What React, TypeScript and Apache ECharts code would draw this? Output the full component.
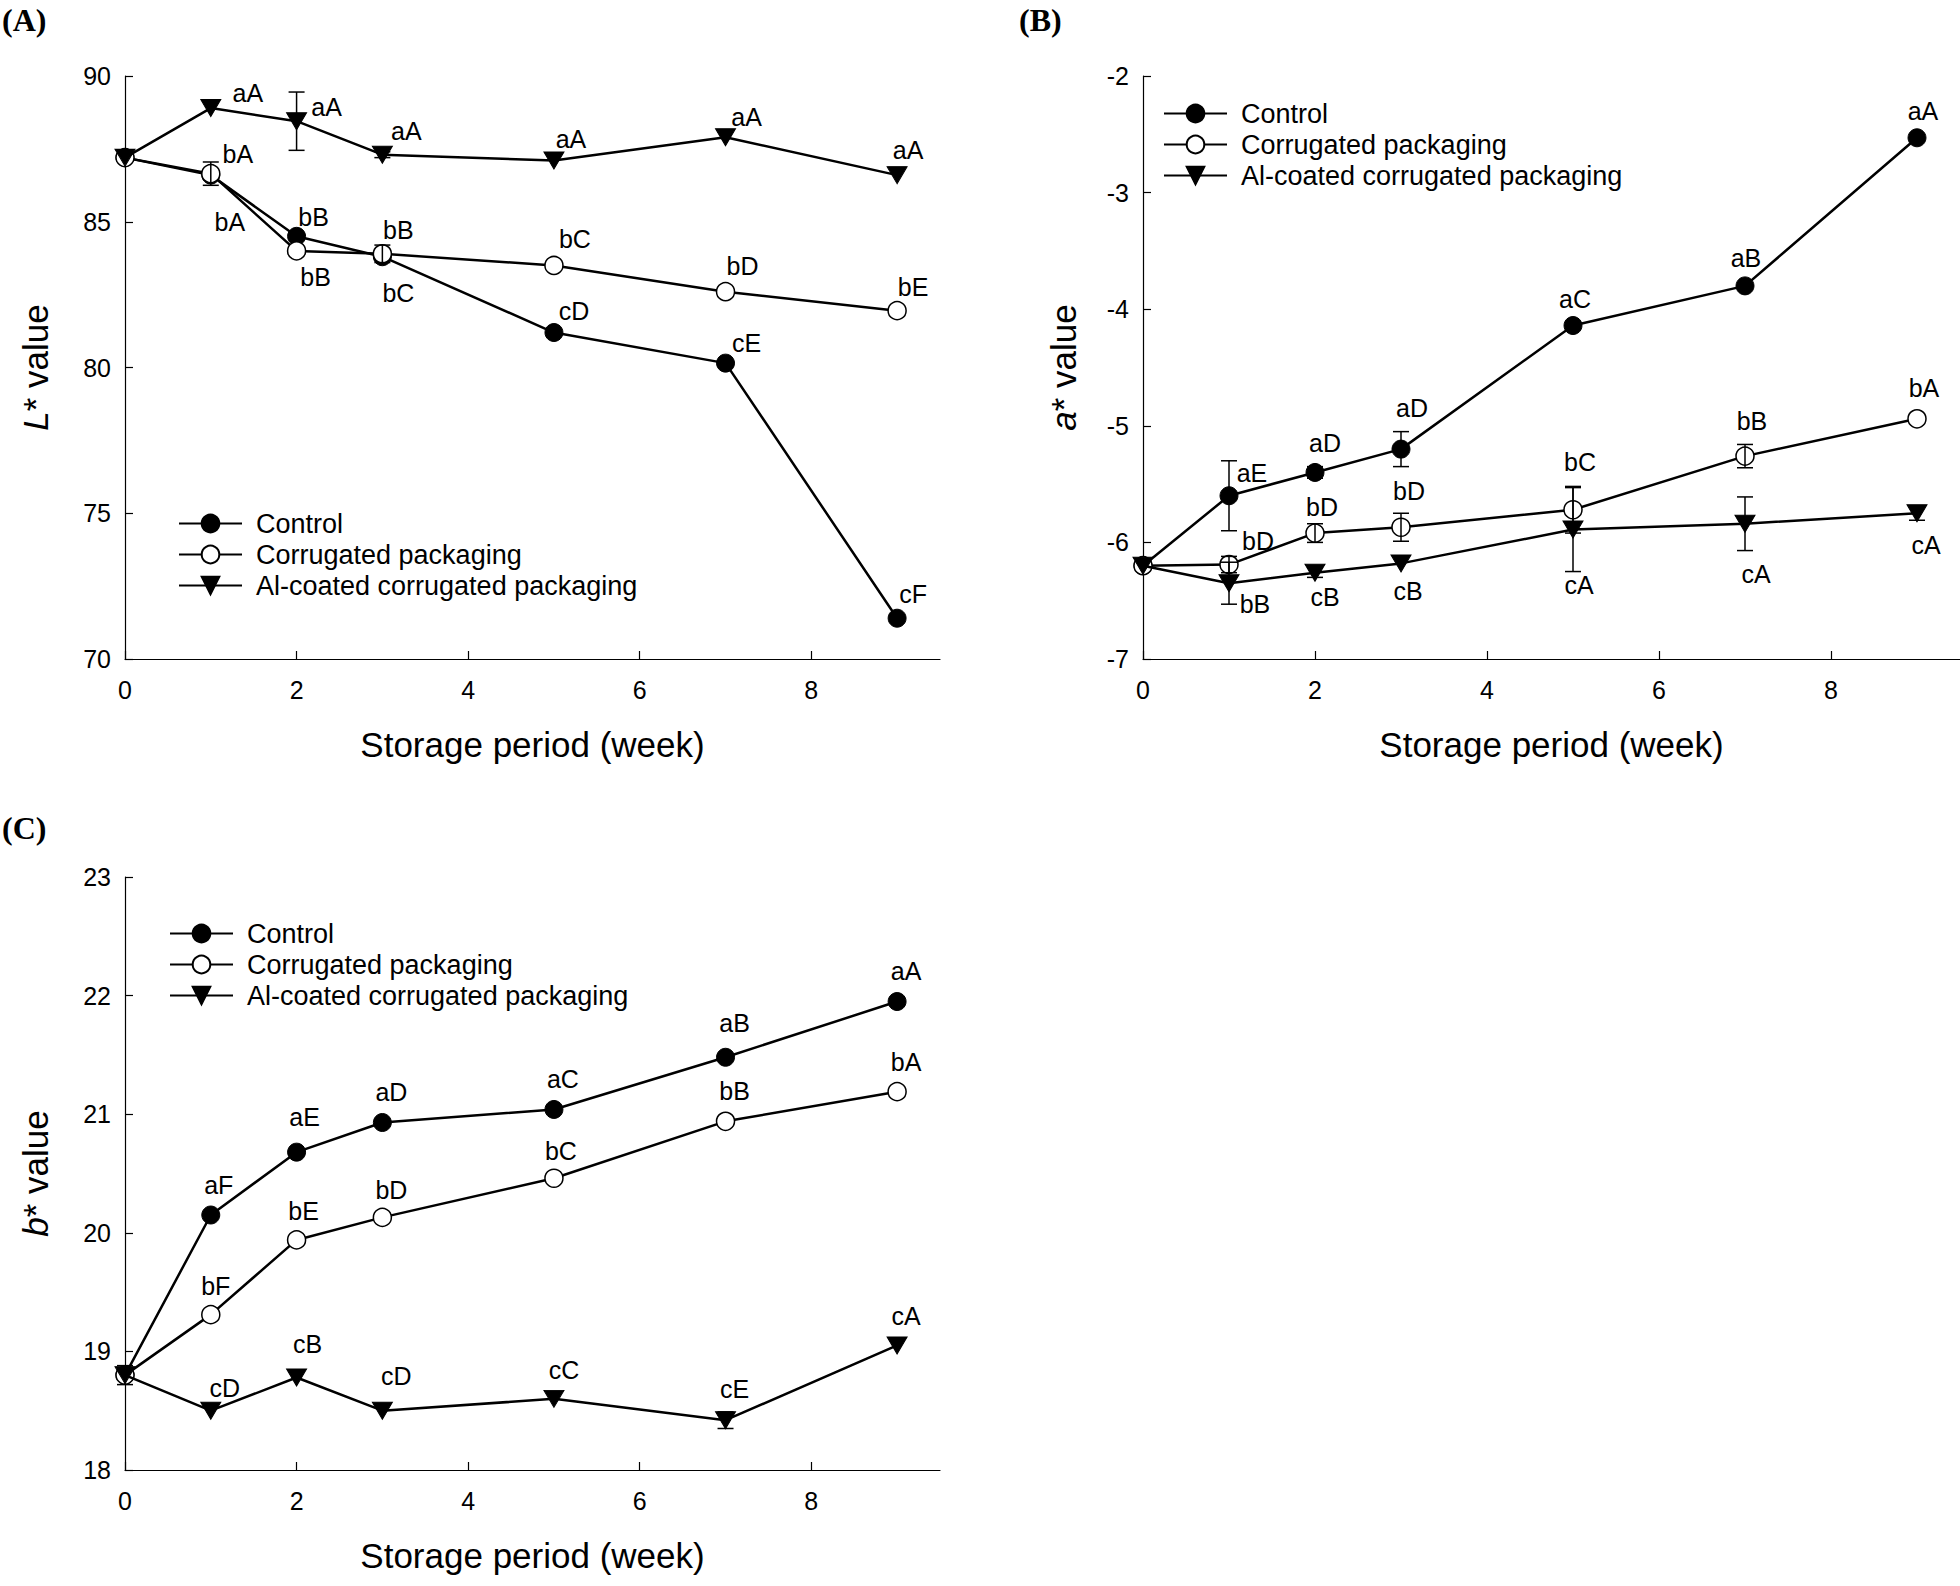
import React, { useEffect, useRef } from "react";
import * as echarts from "echarts";

// ---------- data ----------
const weeks = [0, 1, 2, 3, 5, 7, 9];
const seriesNames = ["Control", "Corrugated packaging", "Al-coated corrugated packaging"];
const xTicks = [0, 2, 4, 6, 8];

// (A) L* value
const lControl = [87.2, 86.6, 84.5, 83.8, 81.2, 80.15, 71.4];
const lCorrugated = [87.2, 86.65, 84.0, 83.9, 83.5, 82.6, 81.95];
const lAlCoated = [87.2, 88.9, 88.45, 87.3, 87.1, 87.9, 86.6];
const lControlErr = [0, 0, 0, 0, 0, 0, 0];
const lCorrugatedErr = [0, 0.4, 0, 0.3, 0, 0, 0];
const lAlCoatedErr = [0, 0, 1.0, 0.1, 0, 0, 0];
const lControlLetters = ["", "bA", "bB", "bC", "cD", "cE", "cF"];
const lCorrugatedLetters = ["", "bA", "bB", "bB", "bC", "bD", "bE"];
const lAlCoatedLetters = ["", "aA", "aA", "aA", "aA", "aA", "aA"];
const lTicks = [70, 75, 80, 85, 90];

// (B) a* value
const aControl = [-6.2, -5.6, -5.4, -5.2, -4.14, -3.8, -2.53];
const aCorrugated = [-6.2, -6.19, -5.92, -5.87, -5.72, -5.26, -4.94];
const aAlCoated = [-6.2, -6.35, -6.26, -6.18, -5.89, -5.84, -5.75];
const aControlErr = [0, 0.3, 0.05, 0.15, 0, 0, 0];
const aCorrugatedErr = [0, 0.07, 0.08, 0.12, 0.2, 0.1, 0];
const aAlCoatedErr = [0, 0.18, 0.04, 0, 0.36, 0.23, 0.06];
const aControlLetters = ["", "aE", "aD", "aD", "aC", "aB", "aA"];
const aCorrugatedLetters = ["", "bD", "bD", "bD", "bC", "bB", "bA"];
const aAlCoatedLetters = ["", "bB", "cB", "cB", "cA", "cA", "cA"];
const aTicks = [-7, -6, -5, -4, -3, -2];

// (C) b* value
const bControl = [18.8, 20.15, 20.68, 20.93, 21.04, 21.48, 21.95];
const bCorrugated = [18.8, 19.31, 19.94, 20.13, 20.46, 20.94, 21.19];
const bAlCoated = [18.8, 18.5, 18.78, 18.5, 18.6, 18.42, 19.05];
const bControlErr = [0, 0, 0, 0, 0, 0, 0];
const bCorrugatedErr = [0.08, 0, 0, 0, 0, 0, 0];
const bAlCoatedErr = [0, 0, 0, 0, 0, 0.07, 0];
const bControlLetters = ["", "aF", "aE", "aD", "aC", "aB", "aA"];
const bCorrugatedLetters = ["", "bF", "bE", "bD", "bC", "bB", "bA"];
const bAlCoatedLetters = ["", "cD", "cB", "cD", "cC", "cE", "cA"];
const bTicks = [18, 19, 20, 21, 22, 23];

// ---------- label placement (pixel offsets from the marker centre) ----------
const offA = [
  [[0, 0], [19, 47], [17, -19], [16, 36], [20, -22], [21, -20], [16, -24]],
  [[0, 0], [27, -20], [19, 26], [16, -24], [21, -26], [17, -26], [16, -24]],
  [[0, 0], [37, -15], [30, -14], [24, -24], [17, -22], [21, -20], [11, -25]],
];
const offB = [
  [[0, 0], [23, -23], [10, -29], [11, -41], [2, -27], [1, -28], [6, -27]],
  [[0, 0], [29, -24], [7, -26], [8, -36], [7, -48], [7, -35], [7, -31]],
  [[0, 0], [26, 21], [10, 24], [7, 28], [6, 55], [11, 50], [9, 32]],
];
const offC = [
  [[0, 0], [8, -30], [8, -35], [9, -31], [9, -30], [9, -34], [9, -31]],
  [[0, 0], [5, -29], [7, -29], [9, -27], [7, -27], [9, -30], [9, -30]],
  [[0, 0], [14, -23], [11, -33], [14, -35], [10, -29], [9, -31], [9, -29]],
];

const FONT = "'Liberation Sans', Arial, sans-serif";
const SERIF = "'Liberation Serif', 'Times New Roman', serif";

const markerStyles = [
  { symbol: "circle", symbolSize: 18, symbolRotate: 0, itemStyle: { color: "#000", borderColor: "#000", borderWidth: 1 } },
  { symbol: "circle", symbolSize: 18, symbolRotate: 0, itemStyle: { color: "#fff", borderColor: "#000", borderWidth: 1.5 } },
  { symbol: "triangle", symbolSize: [20, 17], symbolRotate: 180, itemStyle: { color: "#000", borderColor: "#000", borderWidth: 1 } },
];

function panelSeries(idx: number, vals: number[][], errs: number[][], letters: string[][], offs: number[][][]) {
  const out: any[] = [];
  vals.forEach((v, s) => {
    out.push({
      type: "line",
      name: seriesNames[s],
      xAxisIndex: idx,
      yAxisIndex: idx,
      ...markerStyles[s],
      lineStyle: { color: "#000", width: 2.5 },
      z: 3 + s,
      data: weeks.map((w, k) => ({
        value: [w, v[k]],
        label: letters[s][k]
          ? {
              show: true,
              formatter: letters[s][k],
              position: "inside",
              offset: offs[s][k],
              color: "#000",
              fontSize: 25,
              fontFamily: FONT,
              textBorderWidth: 0,
            }
          : { show: false },
      })),
    });
  });
  vals.forEach((v, s) => {
    const data = weeks
      .map((w, k) => [w, v[k], errs[s][k]])
      .filter((d) => d[2] > 0);
    out.push({
      type: "custom",
      xAxisIndex: idx,
      yAxisIndex: idx,
      z: 10,
      silent: true,
      encode: { x: 0, y: 1 },
      data,
      renderItem: (params: any, api: any) => {
        const x = api.value(0);
        const y = api.value(1);
        const e = api.value(2);
        const t = api.coord([x, y + e]);
        const b = api.coord([x, y - e]);
        const hw = 8;
        const st = { stroke: "#000", lineWidth: 1.5 };
        return {
          type: "group",
          children: [
            { type: "line", shape: { x1: t[0], y1: t[1], x2: b[0], y2: b[1] }, style: st },
            { type: "line", shape: { x1: t[0] - hw, y1: t[1], x2: t[0] + hw, y2: t[1] }, style: st },
            { type: "line", shape: { x1: b[0] - hw, y1: b[1], x2: b[0] + hw, y2: b[1] }, style: st },
          ],
        };
      },
    });
  });
  return out;
}

const axisLineStyle = { color: "#000", width: 1.2 };

function makeXAxis(idx: number) {
  return {
    type: "value",
    gridIndex: idx,
    min: 0,
    max: 9.5,
    interval: 2,
    axisLine: { show: true, onZero: false, lineStyle: axisLineStyle },
    axisTick: { show: true, inside: true, length: 8, lineStyle: axisLineStyle, customValues: xTicks },
    axisLabel: { fontSize: 25, color: "#000", fontFamily: FONT, margin: 18, customValues: xTicks },
    splitLine: { show: false },
    name: "Storage period (week)",
    nameLocation: "middle",
    nameGap: 68,
    nameTextStyle: { fontSize: 35, color: "#000", fontFamily: FONT },
  };
}

function makeYAxis(idx: number, ticks: number[], italic: string, gap: number) {
  return {
    type: "value",
    gridIndex: idx,
    min: ticks[0],
    max: ticks[ticks.length - 1],
    interval: ticks[1] - ticks[0],
    axisLine: { show: true, onZero: false, lineStyle: axisLineStyle },
    axisTick: { show: true, inside: true, length: 8, lineStyle: axisLineStyle },
    axisLabel: { fontSize: 25, color: "#000", fontFamily: FONT, margin: 14 },
    splitLine: { show: false },
    name: "{it|" + italic + "}* value",
    nameLocation: "middle",
    nameGap: gap,
    nameRotate: 90,
    nameTextStyle: {
      fontSize: 35,
      color: "#000",
      fontFamily: FONT,
      rich: { it: { fontSize: 35, fontStyle: "italic", color: "#000", fontFamily: FONT } },
    },
  };
}

function makeLegend(left: number, top: number) {
  return {
    orient: "vertical",
    left,
    top,
    data: seriesNames,
    itemWidth: 63,
    itemHeight: 22,
    itemGap: 4,
    selectedMode: false,
    textStyle: { fontSize: 27, color: "#000", fontFamily: FONT, padding: [0, 0, 0, 9] },
  };
}

export default function App() {
  const ref = useRef<HTMLDivElement>(null);
  useEffect(() => {
    if (!ref.current) return;
    const chart = echarts.init(ref.current, null, { renderer: "svg" });
    const option: any = {
      animation: false,
      backgroundColor: "#fff",
      grid: [
        { left: 125, top: 76, width: 815, height: 583 },
        { left: 1143, top: 76, width: 817, height: 583 },
        { left: 125, top: 877, width: 815, height: 593 },
      ],
      xAxis: [makeXAxis(0), makeXAxis(1), makeXAxis(2)],
      yAxis: [
        makeYAxis(0, lTicks, "L", 72),
        makeYAxis(1, aTicks, "a", 62),
        makeYAxis(2, bTicks, "b", 72),
      ],
      legend: [makeLegend(173, 505), makeLegend(1158, 95), makeLegend(164, 915)],
      series: [
        ...panelSeries(0, [lControl, lCorrugated, lAlCoated], [lControlErr, lCorrugatedErr, lAlCoatedErr], [lControlLetters, lCorrugatedLetters, lAlCoatedLetters], offA),
        ...panelSeries(1, [aControl, aCorrugated, aAlCoated], [aControlErr, aCorrugatedErr, aAlCoatedErr], [aControlLetters, aCorrugatedLetters, aAlCoatedLetters], offB),
        ...panelSeries(2, [bControl, bCorrugated, bAlCoated], [bControlErr, bCorrugatedErr, bAlCoatedErr], [bControlLetters, bCorrugatedLetters, bAlCoatedLetters], offC),
      ],
      graphic: [
        { type: "text", left: 2, top: 4, style: { text: "(A)", font: "bold 32px " + SERIF, fill: "#000" } },
        { type: "text", left: 1019, top: 4, style: { text: "(B)", font: "bold 32px " + SERIF, fill: "#000" } },
        { type: "text", left: 2, top: 812, style: { text: "(C)", font: "bold 32px " + SERIF, fill: "#000" } },
      ],
    };
    chart.setOption(option);
    return () => chart.dispose();
  }, []);
  return (
    <div
      ref={ref}
      style={{ position: "fixed", left: 0, top: 0, width: 1960, height: 1586, background: "#fff" }}
    />
  );
}
